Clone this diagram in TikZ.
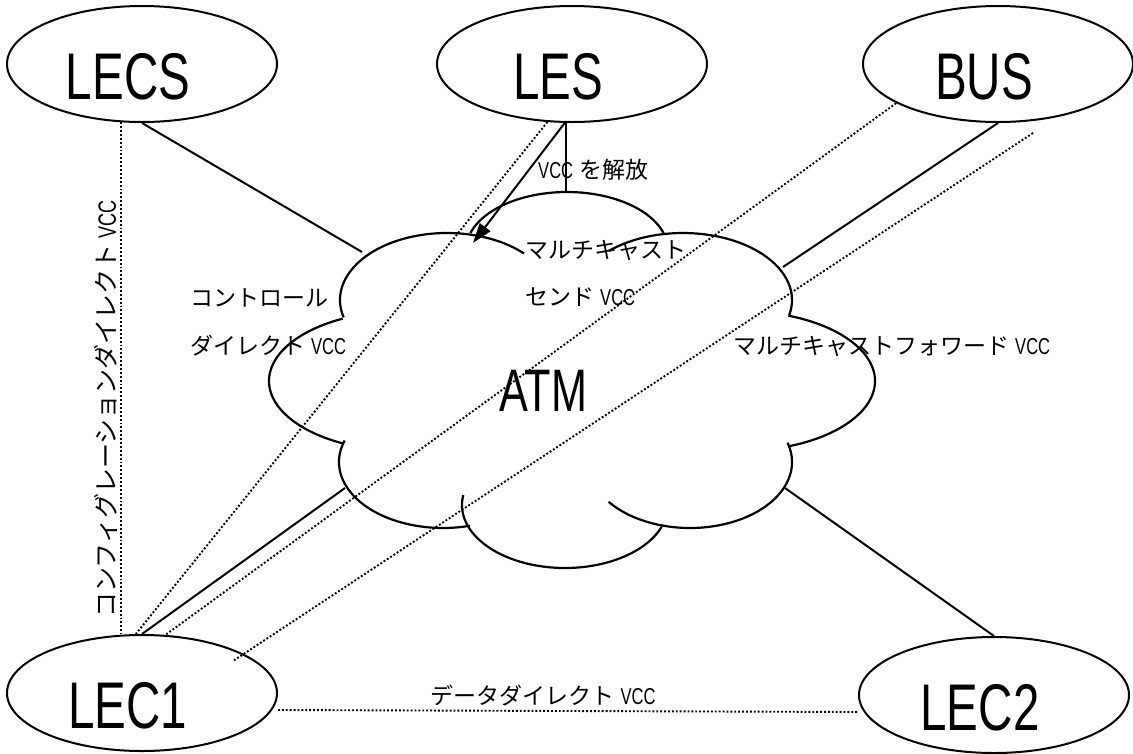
\documentclass[tikz,border=0pt]{standalone}
\usepackage{fontspec}
\setmainfont{Liberation Sans}[FakeStretch=0.72]
\newfontfamily\jp{Noto Sans CJK JP}
\usetikzlibrary{arrows.meta,shapes.geometric}
\newcommand{\vcc}{\hspace{6pt}VCC}

\begin{document}
\begin{tikzpicture}[
  x=1pt,y=-1pt,
  every node/.style={font=\fontsize{23}{27}\selectfont},
  endpoint/.style={draw,ellipse,line width=2pt,minimum width=270pt,minimum height=116pt,
                   inner sep=0pt,text height=70pt,text depth=0pt,
                   font=\fontsize{66}{66}\selectfont,
                   execute at end node=\hspace*{28pt}},
  lbl/.style={anchor=west,inner sep=0pt},
  link/.style={line width=2pt},
  vccline/.style={line width=1.9pt,dash pattern=on 1.9pt off 2pt},
  bumpline/.style={line width=2.2pt},
]
  \useasboundingbox (0,0) rectangle (1133,753);

  % Servers
  \node[endpoint] (lecs) at (142,64) {LECS};
  \node[endpoint] (les) at (572,64) {LES};
  \node[endpoint] (bus) at (998,64) {BUS};

  % Clients
  \node[endpoint] (lec1) at (142,693) {LEC1};
  \node[endpoint] (lec2) at (994,695) {LEC2};

  % ATM cloud, one arc per bump
  \foreach \cx/\cy/\rx/\ry/\s/\e in {567/250/101/58/163/17, 447/300/107/67/195/44,
      683/300/109/67/133/-13, 740/381/135/70/69/-69, 690/462/102/66/17/-143,
      565/505/103/63/-189/-20, 443/462/104/66/-199/-75, 404/381/135/70/-243/-117}
    \draw[bumpline] (\cx,\cy) ++(\s:\rx pt and \ry pt)
      arc[start angle=\s, end angle=\e, x radius=\rx pt, y radius=\ry pt];
  \node[font=\fontsize{60}{60}\selectfont] (atm) at (543,391) {ATM};

  % Points on the cloud edge
  \coordinate (c-lecs) at (362,252);
  \coordinate (c-bus) at (783,267);
  \coordinate (c-lec1) at (345,488);
  \coordinate (c-lec2) at (785,488);
  \coordinate (c-top) at (566,192);
  \coordinate (c-release) at (473,243);
  \coordinate (busgap) at (1033,133);
  \coordinate (lec1gap) at (233,661);

  % Links into the cloud
  \draw[link] (lecs.south) -- (c-lecs);
  \draw[link] (bus.south) -- (c-bus);
  \draw[link] (lec1.north) -- (c-lec1);
  \draw[link] (lec2.north) -- (c-lec2);
  \draw[link] (les.south -| c-top) -- (c-top);
  \draw[link,-{Triangle[length=20pt,width=13pt]}] (les.263) -- (c-release);

  % VCCs
  \draw[vccline] (lecs.250) -- (lecs.250 |- lec1.north)
    node[pos=0.56,anchor=south,rotate=90,inner sep=2pt,font=\fontsize{25}{30}\selectfont]
    {{\jp コンフィグレーションダイレクト}\vcc};
  \draw[vccline] (les.247) -- (lec1.96);
  \draw[vccline] (bus.201) -- (lec1.68);
  \draw[vccline] (busgap) -- (lec1gap);
  \draw[vccline] ([yshift=-17pt]lec1.east) -- ([yshift=-17pt]lec2.west)
    node[midway,above=1pt,xshift=-25pt] {{\jp データダイレクト}\vcc};

  % Labels
  \node[lbl] (release) at (538,170) {VCC\hspace{6pt}{\jp を解放}};
  \node[lbl] (msend1) at (525,250) {\jp マルチキャスト};
  \node[lbl] (msend2) at (525,297) {{\jp センド}\vcc};
  \node[lbl] (ctrl1) at (190,298) {\jp コントロール};
  \node[lbl] (ctrl2) at (190,346) {{\jp ダイレクト}\vcc};
  \node[lbl] (mfwd) at (733,346) {{\jp マルチキャストフォワード}\vcc};
\end{tikzpicture}
\end{document}
